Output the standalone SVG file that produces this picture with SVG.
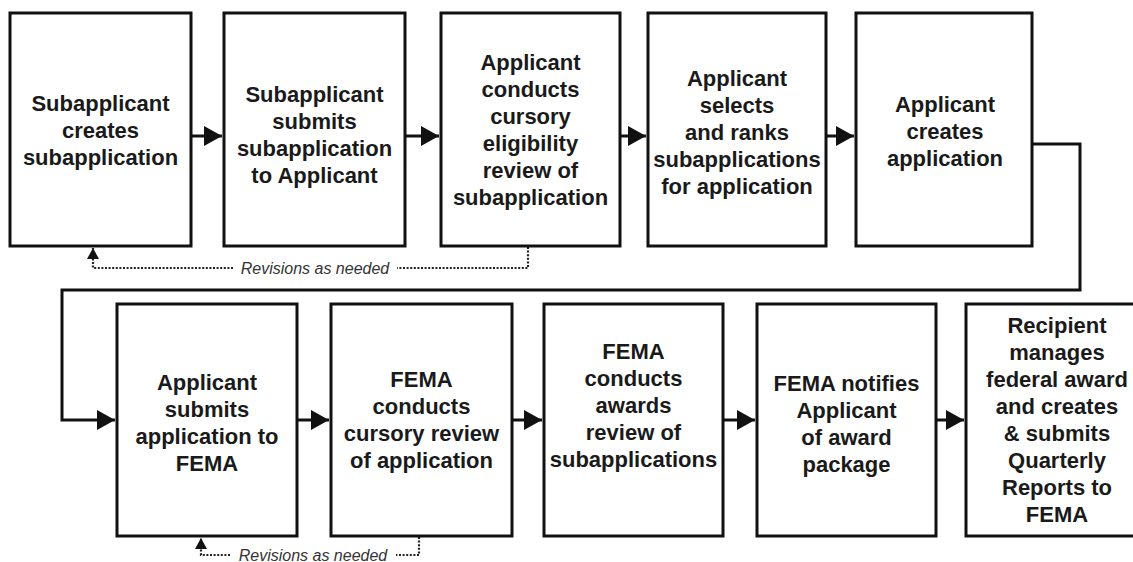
<svg xmlns="http://www.w3.org/2000/svg" width="1133" height="562" viewBox="0 0 1133 562">
<style>
.box{fill:#fff;stroke:#111;stroke-width:3}
.lbl{font-family:"Liberation Sans",Arial,sans-serif;font-weight:bold;font-size:22px;fill:#1a1a1a;text-anchor:middle}
.conn{fill:none;stroke:#111;stroke-width:3}
.dot{fill:none;stroke:#222;stroke-width:2.2;stroke-dasharray:2 1.6}
.rev{font-family:"Liberation Sans",Arial,sans-serif;font-style:italic;font-size:16px;fill:#333;text-anchor:middle}
</style>
<defs>
<marker id="arrow" markerUnits="userSpaceOnUse" markerWidth="18" markerHeight="20" refX="18" refY="10" orient="auto">
<path d="M0,0 L18,10 L0,20 z" fill="#111"/>
</marker>
<marker id="arrowS" markerUnits="userSpaceOnUse" markerWidth="11" markerHeight="12" refX="11" refY="6" orient="auto">
<path d="M0,0 L11,6 L0,12 z" fill="#111"/>
</marker>
</defs>
<rect width="1133" height="562" fill="#fff"/>
<g id="connectors">
<line class="conn" x1="191" y1="136" x2="222" y2="136" marker-end="url(#arrow)"/>
<line class="conn" x1="405" y1="136" x2="439" y2="136" marker-end="url(#arrow)"/>
<line class="conn" x1="620" y1="136" x2="646" y2="136" marker-end="url(#arrow)"/>
<line class="conn" x1="826" y1="136" x2="854" y2="136" marker-end="url(#arrow)"/>
<path class="conn" d="M1032,144 H1080 V290 H62 V420 H115" marker-end="url(#arrow)"/>
<line class="conn" x1="297" y1="420" x2="329" y2="420" marker-end="url(#arrow)"/>
<line class="conn" x1="512" y1="420" x2="542" y2="420" marker-end="url(#arrow)"/>
<line class="conn" x1="723" y1="420" x2="755" y2="420" marker-end="url(#arrow)"/>
<line class="conn" x1="936" y1="420" x2="964" y2="420" marker-end="url(#arrow)"/>
<path class="dot" d="M528,247 V268 H397"/>
<path class="dot" d="M233,268 H93 V248" marker-end="url(#arrowS)"/>
<text class="rev" x="315" y="274">Revisions as needed</text>
<path class="dot" d="M419,537 V555 H396"/>
<path class="dot" d="M230,555 H201 V538" marker-end="url(#arrowS)"/>
<text class="rev" x="313" y="561">Revisions as needed</text>
</g>
<g id="n1"><rect class="box" x="10" y="13" width="181" height="233"/>
<text class="lbl" y="111"><tspan x="100.5">Subapplicant</tspan><tspan x="100.5" dy="27">creates</tspan><tspan x="100.5" dy="27">subapplication</tspan></text></g>
<g id="n2"><rect class="box" x="224" y="13" width="181" height="233"/>
<text class="lbl" y="102"><tspan x="314.5">Subapplicant</tspan><tspan x="314.5" dy="27">submits</tspan><tspan x="314.5" dy="27">subapplication</tspan><tspan x="314.5" dy="27">to Applicant</tspan></text></g>
<g id="n3"><rect class="box" x="441" y="13" width="179" height="233"/>
<text class="lbl" y="70"><tspan x="530.5">Applicant</tspan><tspan x="530.5" dy="27">conducts</tspan><tspan x="530.5" dy="27">cursory</tspan><tspan x="530.5" dy="27">eligibility</tspan><tspan x="530.5" dy="27">review of</tspan><tspan x="530.5" dy="27">subapplication</tspan></text></g>
<g id="n4"><rect class="box" x="648" y="13" width="178" height="233"/>
<text class="lbl" y="86"><tspan x="737">Applicant</tspan><tspan x="737" dy="27">selects</tspan><tspan x="737" dy="27">and ranks</tspan><tspan x="737" dy="27">subapplications</tspan><tspan x="737" dy="27">for application</tspan></text></g>
<g id="n5"><rect class="box" x="856" y="13" width="176" height="233"/>
<text class="lbl" y="112"><tspan x="945">Applicant</tspan><tspan x="945" dy="27">creates</tspan><tspan x="945" dy="27">application</tspan></text></g>
<g id="n6"><rect class="box" x="117" y="304" width="180" height="232"/>
<text class="lbl" y="390"><tspan x="207">Applicant</tspan><tspan x="207" dy="27">submits</tspan><tspan x="207" dy="27">application to</tspan><tspan x="207" dy="27">FEMA</tspan></text></g>
<g id="n7"><rect class="box" x="331" y="304" width="181" height="232"/>
<text class="lbl" y="387"><tspan x="421.5">FEMA</tspan><tspan x="421.5" dy="27">conducts</tspan><tspan x="421.5" dy="27">cursory review</tspan><tspan x="421.5" dy="27">of application</tspan></text></g>
<g id="n8"><rect class="box" x="544" y="304" width="179" height="232"/>
<text class="lbl" y="359"><tspan x="633.5">FEMA</tspan><tspan x="633.5" dy="27">conducts</tspan><tspan x="633.5" dy="27">awards</tspan><tspan x="633.5" dy="27">review of</tspan><tspan x="633.5" dy="27">subapplications</tspan></text></g>
<g id="n9"><rect class="box" x="757" y="304" width="179" height="232"/>
<text class="lbl" y="391"><tspan x="846.5">FEMA notifies</tspan><tspan x="846.5" dy="27">Applicant</tspan><tspan x="846.5" dy="27">of award</tspan><tspan x="846.5" dy="27">package</tspan></text></g>
<g id="n10"><rect class="box" x="966" y="304" width="200" height="232"/>
<text class="lbl" y="333"><tspan x="1057">Recipient</tspan><tspan x="1057" dy="27">manages</tspan><tspan x="1057" dy="27">federal award</tspan><tspan x="1057" dy="27">and creates</tspan><tspan x="1057" dy="27">&amp; submits</tspan><tspan x="1057" dy="27">Quarterly</tspan><tspan x="1057" dy="27">Reports to</tspan><tspan x="1057" dy="27">FEMA</tspan></text></g>
</svg>
